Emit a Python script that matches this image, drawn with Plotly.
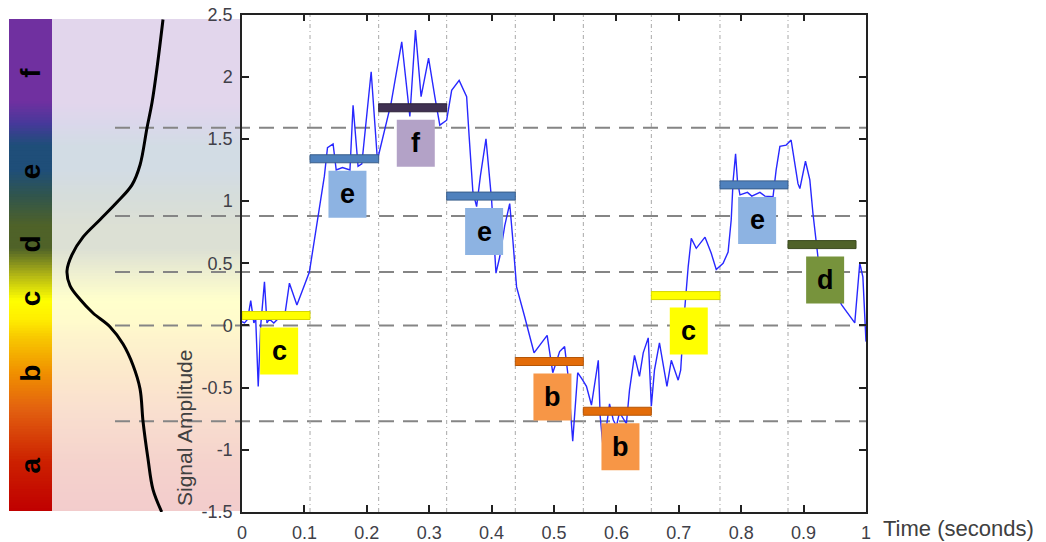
import plotly.graph_objects as go

W, H = 1046, 542

# ---------------- data ----------------
time_s = [
    0.000, 0.004, 0.009, 0.014, 0.019, 0.022, 0.026, 0.030, 0.036, 0.040,
    0.044, 0.051, 0.057, 0.068, 0.076, 0.088, 0.108, 0.121, 0.127, 0.132,
    0.137, 0.146, 0.151, 0.161, 0.173, 0.178, 0.186, 0.192, 0.207, 0.217,
    0.239, 0.256, 0.269, 0.278, 0.287, 0.299, 0.309, 0.317, 0.328, 0.336,
    0.348, 0.360, 0.364, 0.370, 0.376, 0.382, 0.391, 0.400, 0.407, 0.413,
    0.421, 0.429, 0.434, 0.440, 0.453, 0.468, 0.489, 0.495, 0.498, 0.504,
    0.509, 0.517, 0.522, 0.530, 0.538, 0.546, 0.552, 0.560, 0.571, 0.574,
    0.579, 0.589, 0.595, 0.600, 0.605, 0.616, 0.621, 0.629, 0.637, 0.643,
    0.651, 0.656, 0.661, 0.669, 0.681, 0.688, 0.699, 0.703, 0.708, 0.715,
    0.720, 0.728, 0.742, 0.752, 0.760, 0.771, 0.779, 0.784, 0.787, 0.791,
    0.794, 0.798, 0.810, 0.817, 0.830, 0.838, 0.851, 0.856, 0.862, 0.872,
    0.880, 0.891, 0.894, 0.903, 0.910, 0.915, 0.921, 0.923, 0.942, 0.961,
    0.982, 0.990, 0.995, 1.000,
]
amplitude = [
    0.03, 0.02, 0.05, 0.20, 0.02, 0.05, -0.49, 0.00, 0.35, 0.02,
    0.05, 0.02, 0.05, 0.06, 0.34, 0.165, 0.43, 0.86, 1.05, 1.20,
    1.43, 1.46, 1.25, 1.27, 1.25, 1.77, 1.28, 1.30, 2.04, 1.33,
    1.79, 2.28, 1.68, 2.375, 1.84, 2.15, 1.84, 1.61, 1.65, 1.89,
    1.97, 1.84, 1.52, 1.075, 0.955, 1.20, 1.50, 1.01, 0.42, 0.55,
    0.80, 0.98, 0.69, 0.31, 0.07, -0.22, -0.08, -0.28, -0.38, -0.29,
    -0.21, -0.17, -0.38, -0.93, -0.38, -0.44, -0.49, -0.64, -0.28, -0.73,
    -1.00, -0.63, -0.76, -0.81, -0.70, -0.79, -0.52, -0.24, -0.41, -0.22,
    -0.10, -0.65, -0.36, -0.14, -0.49, -0.28, -0.44, -0.36, 0.04, 0.47,
    0.70, 0.62, 0.71, 0.58, 0.45, 0.50, 0.59, 0.85, 1.16, 1.38,
    1.16, 1.05, 1.07, 1.04, 1.07, 1.04, 1.035, 1.25, 1.44, 1.45,
    1.49, 1.14, 1.10, 1.32, 1.17, 0.90, 0.63, 0.55, 0.35, 0.165,
    0.02, 0.50, 0.39, -0.13,
]

segment_edges = [0.0, 0.109, 0.219, 0.328, 0.438, 0.547, 0.656, 0.766, 0.875, 0.984]
paa_values = [0.08, 1.34, 1.75, 1.04, -0.29, -0.69, 0.24, 1.13, 0.65]
sax_symbols = ['c', 'e', 'f', 'e', 'b', 'b', 'c', 'e', 'd']

breakpoints = [-0.77, 0.0, 0.43, 0.88, 1.59]
alphabet = ['a', 'b', 'c', 'd', 'e', 'f']

curve_amplitude = [2.46, 2.07, 1.79, 1.59, 1.29, 1.13, 0.99, 0.85, 0.71, 0.57, 0.44,
                   0.32, 0.21, 0.10, -0.01, -0.15, -0.32, -0.51, -0.77, -1.07, -1.32, -1.50]
curve_density = [0.068, 0.126, 0.175, 0.223, 0.291, 0.369, 0.515, 0.680, 0.845, 0.951, 1.0,
                 0.971, 0.874, 0.748, 0.583, 0.456, 0.359, 0.291, 0.262, 0.214, 0.165, 0.080]

x_ticks = [0, 0.1, 0.2, 0.3, 0.4, 0.5, 0.6, 0.7, 0.8, 0.9, 1.0]
x_tick_labels = ['0', '0.1', '0.2', '0.3', '0.4', '0.5', '0.6', '0.7', '0.8', '0.9', '1']
y_ticks = [-1.5, -1, -0.5, 0, 0.5, 1, 1.5, 2, 2.5]
y_tick_labels = ['-1.5', '-1', '-0.5', '0', '0.5', '1', '1.5', '2', '2.5']

# ---------------- styles ----------------
FONT = "Liberation Sans, Arial, sans-serif"
TICK_COLOR = '#404048'
BAR_FILL = {'a': '#c00000', 'b': '#e36c09', 'c': '#ffff00', 'd': '#4f6228', 'e': '#4f81bd', 'f': '#403152'}
BAR_EDGE = {'a': '#900000', 'b': '#b55607', 'c': '#d6d600', 'd': '#3b4a1e', 'e': '#385d8a', 'f': '#2c2239'}
BOX_FILL = {'a': '#e6b9b8', 'b': '#f79646', 'c': '#ffff00', 'd': '#77933c', 'e': '#8db3e2', 'f': '#b3a2c7'}

# vivid colour ramp of the symbol bar (amplitude -> colour)
RAMP = [(-1.49, '#c00000'), (-1.10, '#cc2000'), (-0.68, '#e26010'), (-0.38, '#f09000'),
        (-0.10, '#f8c800'), (0.05, '#ffee00'), (0.20, '#ffff00'), (0.40, '#b4b814'),
        (0.62, '#4f6228'), (0.80, '#4f6228'), (1.05, '#30554e'), (1.25, '#1f4e79'),
        (1.45, '#1f4e79'), (1.62, '#46399a'), (1.80, '#7030a0'), (2.46, '#7030a0')]

# pixel frame
PL, PR, PT, PB = 242, 866, 14.5, 512
PANEL_T, PANEL_B = 19, 511
CBAR_L, CBAR_R, PAST_R = 9, 52, 241
DASH_L = 115
Y0, Y1 = -1.5, 2.5


def fx(p):
    return p / W


def fy(p):
    return 1 - p / H


def v_of_px(p):
    return Y1 - (p - PT) * (Y1 - Y0) / (PB - PT)


def hex2rgb(h):
    h = h.lstrip('#')
    return [int(h[i:i + 2], 16) for i in (0, 2, 4)]


def ramp_color(v, pastel=False):
    pts = RAMP
    if v <= pts[0][0]:
        c = hex2rgb(pts[0][1])
    elif v >= pts[-1][0]:
        c = hex2rgb(pts[-1][1])
    else:
        for (v0, c0), (v1, c1) in zip(pts[:-1], pts[1:]):
            if v0 <= v <= v1:
                t = (v - v0) / (v1 - v0)
                a, b = hex2rgb(c0), hex2rgb(c1)
                c = [a[i] + (b[i] - a[i]) * t for i in range(3)]
                break
    if pastel:
        c = [0.2 * x + 0.8 * 255 for x in c]
    return 'rgb(%d,%d,%d)' % tuple(round(x) for x in c)


shapes = []
annotations = []

# gradient panels
v_top, v_bot = v_of_px(PANEL_T), v_of_px(PANEL_B)
N = 180
step = (v_top - v_bot) / N
for i in range(N):
    a = v_bot + i * step
    b = a + step
    mid = (a + b) / 2
    for (l, r, pastel) in ((CBAR_L, CBAR_R, False), (CBAR_R, PAST_R, True)):
        shapes.append(dict(type='rect', xref='paper', yref='y', layer='below',
                           x0=fx(l), x1=fx(r), y0=a, y1=min(b + step * 0.6, v_top),
                           fillcolor=ramp_color(mid, pastel), line=dict(width=0)))

# breakpoint dashed lines
for bp in breakpoints:
    shapes.append(dict(type='line', xref='paper', yref='y', layer='below',
                       x0=fx(DASH_L), x1=fx(PR), y0=bp, y1=bp,
                       line=dict(color='#858585', width=2, dash='15px,9px')))

# segment boundaries
for e in segment_edges[1:-1]:
    shapes.append(dict(type='line', xref='x', yref='y', layer='below',
                       x0=e, x1=e, y0=Y0, y1=Y1,
                       line=dict(color='#a8a8a8', width=1, dash='4px,3px,1px,3px')))

# PAA bars and symbol boxes
units_per_px_y = (Y1 - Y0) / (PB - PT)
units_per_px_x = 1.0 / (PR - PL)
bar_h = 8 * units_per_px_y
box_w = 38 * units_per_px_x
box_h = 47 * units_per_px_y
gap = 12 * units_per_px_y
for k, (val, sym) in enumerate(zip(paa_values, sax_symbols)):
    x0, x1 = segment_edges[k], segment_edges[k + 1]
    shapes.append(dict(type='rect', xref='x', yref='y', layer='above',
                       x0=x0, x1=x1, y0=val - bar_h / 2, y1=val + bar_h / 2,
                       fillcolor=BAR_FILL[sym], line=dict(color=BAR_EDGE[sym], width=1)))
    cx = (x0 + x1) / 2 + 0.005
    top = val - gap
    shapes.append(dict(type='rect', xref='x', yref='y', layer='above',
                       x0=cx - box_w / 2, x1=cx + box_w / 2, y0=top - box_h, y1=top,
                       fillcolor=BOX_FILL[sym], line=dict(width=0)))
    annotations.append(dict(xref='x', yref='y', x=cx, y=top - box_h / 2, text='<b>%s</b>' % sym,
                            showarrow=False, xanchor='center', yanchor='middle',
                            font=dict(family=FONT, size=27, color='black')))

# symbol letters on the colour bar (centred in each breakpoint region)
edges = [v_bot] + breakpoints + [v_top]
for i, letter in enumerate(alphabet):
    mid = (edges[i] + edges[i + 1]) / 2
    annotations.append(dict(xref='paper', yref='y', x=fx((CBAR_L + CBAR_R) / 2), y=mid,
                            text='<b>%s</b>' % letter, textangle=-90, showarrow=False,
                            xanchor='center', yanchor='middle',
                            font=dict(family=FONT, size=28, color='black')))

# axis titles
annotations.append(dict(xref='paper', yref='paper', x=fx(881), y=fy(528), text='Time (seconds)',
                        showarrow=False, xanchor='left', yanchor='middle',
                        font=dict(family=FONT, size=22, color='#404040')))
annotations.append(dict(xref='paper', yref='paper', x=fx(184), y=fy(428), text='Signal Amplitude',
                        textangle=-90, showarrow=False, xanchor='center', yanchor='middle',
                        font=dict(family=FONT, size=21, color='#404040')))

fig = go.Figure()
fig.add_trace(go.Scatter(x=time_s, y=amplitude, mode='lines', xaxis='x', yaxis='y',
                         line=dict(color='rgb(40,40,255)', width=1.4), hoverinfo='skip',
                         showlegend=False))
fig.add_trace(go.Scatter(x=curve_density, y=curve_amplitude, mode='lines', xaxis='x2', yaxis='y',
                         line=dict(color='black', width=3, shape='spline'), hoverinfo='skip',
                         showlegend=False))

dens_per_px = 1.0 / 103.0
fig.update_layout(
    width=W, height=H,
    margin=dict(l=0, r=0, t=0, b=0),
    paper_bgcolor='white', plot_bgcolor='white',
    showlegend=False,
    font=dict(family=FONT),
    xaxis=dict(domain=[fx(PL), fx(PR)], range=[0, 1], anchor='y',
               tickmode='array', tickvals=x_ticks, ticktext=x_tick_labels,
               ticks='inside', ticklen=7, tickwidth=1.5, tickcolor='#222',
               showline=True, linecolor='#222', linewidth=1.5, mirror='ticks',
               showgrid=False, zeroline=False, automargin=False,
               tickfont=dict(family=FONT, size=18, color=TICK_COLOR), ticklabelstandoff=4),
    yaxis=dict(domain=[fy(PB), fy(PT)], range=[Y0, Y1], anchor='x',
               tickmode='array', tickvals=y_ticks, ticktext=y_tick_labels,
               ticks='inside', ticklen=7, tickwidth=1.5, tickcolor='#222',
               showline=True, linecolor='#222', linewidth=1.5, mirror='ticks',
               showgrid=False, zeroline=False, automargin=False,
               tickfont=dict(family=FONT, size=18, color=TICK_COLOR), ticklabelstandoff=4),
    xaxis2=dict(domain=[fx(CBAR_L), fx(PAST_R)], anchor='y', visible=False,
                range=[(170 - CBAR_L) * dens_per_px, (170 - PAST_R) * dens_per_px]),
    shapes=shapes,
    annotations=annotations,
)

fig.write_html("out.html")
